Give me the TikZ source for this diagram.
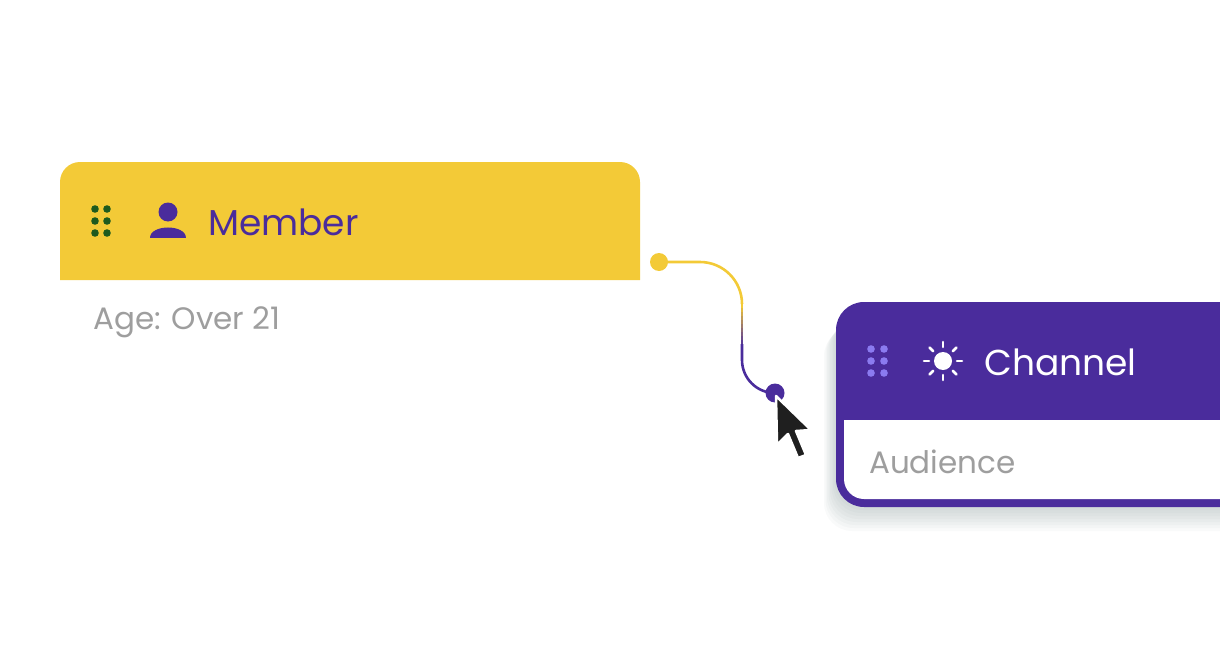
\documentclass[tikz,border=0pt]{standalone}
\usepackage{fontspec}
\setmainfont{Poppins}
\definecolor{ylw}{HTML}{F3CA37}
\definecolor{prp}{HTML}{4A2C9C}
\definecolor{lprp}{HTML}{8B7BF0}
\definecolor{dgrn}{HTML}{1E5A1E}
\definecolor{gtxt}{HTML}{9E9E9E}
\begin{document}
\begin{tikzpicture}[x=1pt,y=-1pt,
  title/.style={font=\fontsize{36}{40}\selectfont,anchor=west,inner sep=0pt},
  sub/.style={font=\fontsize{31}{34}\selectfont,text=gtxt,anchor=west,inner sep=0pt},
  dotm/.style={fill=dgrn,draw=none},
  dotc/.style={fill=lprp,draw=none}]
\useasboundingbox (0,0) rectangle (1220,650);
% Member card
\fill[ylw] (60,280) -- (60,182) arc[start angle=180,end angle=270,radius=20] -- (620,162) arc[start angle=270,end angle=360,radius=20] -- (640,280) -- cycle;
\foreach \x in {95,107}\foreach \y in {209,221,233}\fill[dotm] (\x,\y) circle (3.8);
\fill[prp] (168,212) circle (9.5);
\fill[prp] (150,238) .. controls (150,224) and (186,224) .. (186,238) -- cycle;
\node[title,text=prp] (mt) at (208,222) {Member};
\node[sub] (ma) at (93,322) {Age: Over 21};
% shadow
\foreach \i in {1,...,8}{
  \fill[black!70!teal,opacity=0.022,rounded corners=28] ({836-\i*1.5},{312+\i*2}) rectangle (1260,{507+\i*3});
}
% Channel card
\fill[prp,rounded corners=28] (836,302) rectangle (1260,507);
\fill[white,rounded corners=20] (844,420) -- (844,499) -- (1260,499) -- (1260,420) -- cycle;
\fill[white] (860,420) rectangle (1260,450);
\fill[white] (844,420) rectangle (900,460);
\foreach \x in {871,884}\foreach \y in {349,361,373}\fill[dotc] (\x,\y) circle (3.8);
\fill[white] (943,361) circle (9);
\foreach \a in {0,45,...,315}\draw[white,line width=2.6,line cap=round] (943,361)++(\a:14) -- ++(\a:5);
\node[title,text=white] (ct) at (984,362) {Channel};
\node[sub] (ca) at (869,462) {Audience};
% connector
\coordinate (s) at (659,262);
\coordinate (e) at (775,393);
\draw[ylw,line width=2.6] (s) -- (700,262) arc[start angle=270,end angle=360,radius=42];
\foreach \i in {0,...,9}{
  \pgfmathtruncatemacro{\p}{100-\i*10}
  \draw[color=ylw!\p!prp,line width=2.6] (742,{304+\i*4}) -- (742,{308.5+\i*4});
}
\draw[prp,line width=2.6] (742,344) -- (742,360) arc[start angle=180,end angle=90,radius=33];
\fill[ylw] (s) circle (9);
\fill[prp] (e) circle (9.5);
% cursor
\filldraw[fill=black!88,draw=white,line width=2.5,line join=round] (776,396) -- (777,445) -- (788,434) -- (798,458) -- (806,455) -- (796,431) -- (811,430) -- cycle;
\end{tikzpicture}
\end{document}
